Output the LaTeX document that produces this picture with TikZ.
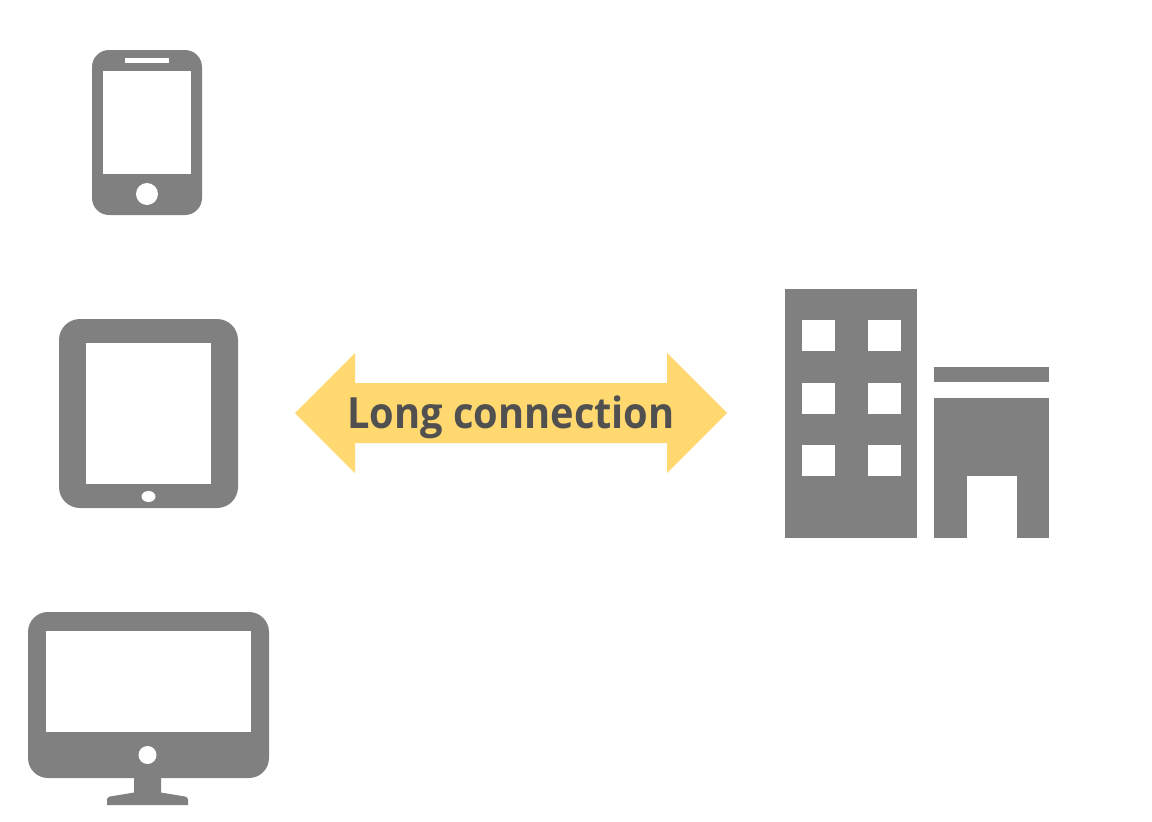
\documentclass[tikz,border=0pt]{standalone}
\usepackage{fontspec}
\setmainfont{Open Sans}
\newfontfamily\labelfont[FakeStretch=0.925]{Open Sans}
\definecolor{icongray}{HTML}{808080}
\definecolor{arrowyellow}{HTML}{FFD86F}
\definecolor{labelgray}{HTML}{505050}
\tikzset{
    icon/.style={fill=icongray, draw=none},
    hole/.style={fill=white, draw=none},
    link arrow/.style={fill=arrowyellow, draw=none},
    link label/.style={text=labelgray, inner sep=0pt, anchor=base, font=\labelfont\fontsize{43}{50}\selectfont\bfseries},
}
\begin{document}
\begin{tikzpicture}[x=1pt,y=-1pt]
    \useasboundingbox (0,0) rectangle (1152,822);
    % phone
    \fill[icon, rounded corners=17pt] (92,50) rectangle (202,215);
    \fill[hole] (103,71) rectangle (191,173.5);
    \fill[hole] (125,57.5) rectangle (169,62.5);
    \fill[hole] (147,194) circle (11);
    % tablet
    \fill[icon, rounded corners=21pt] (59,319) rectangle (238,508);
    \fill[hole] (86.3,342.5) rectangle (210.7,484);
    \fill[hole] (148.5,496.5) ellipse (7 and 5.5);
    % monitor
    \fill[icon] (134,770) -- (134,792.5) -- (110,796.5) .. controls (108,797) and (107,798) .. (107,800) -- (107,805) -- (188,805) -- (188,800) .. controls (188,798) and (187,797) .. (185,796.5) -- (161,792.5) -- (161,770) -- cycle;
    \fill[icon, rounded corners=20pt] (28,612) rectangle (269,778);
    \fill[hole] (46,630.5) rectangle (251,731.5);
    \fill[hole] (147.5,755) circle (9);
    % double arrow
    \fill[link arrow] (295,413) -- (355,353) -- (355,383) -- (667,383) -- (667,353) -- (727,413) -- (667,473) -- (667,443) -- (355,443) -- (355,473) -- cycle;
    \node[link label] (linklabel) at (511,428.5) {Long connection};
    % building
    \fill[icon] (785,289) rectangle (917,538);
    \foreach \wx in {801.5,867.5}
        \foreach \wy/\wh in {320/31,382.5/31,444.5/31}
            \fill[hole] (\wx,\wy) rectangle ++(33,\wh);
    \fill[icon] (934,367) rectangle (1049,382);
    \fill[icon] (934,398) rectangle (1049,538);
    \fill[hole] (966.5,476) rectangle (1016.5,538);
\end{tikzpicture}
\end{document}
